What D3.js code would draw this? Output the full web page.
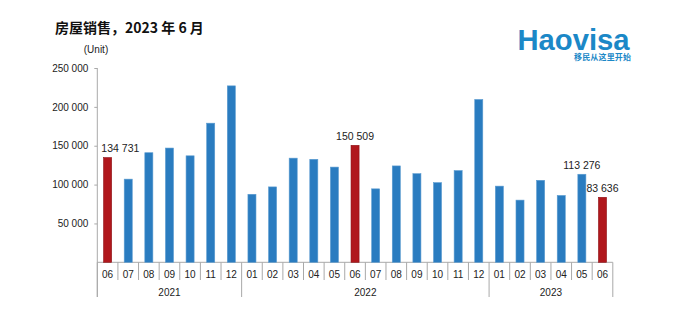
<!DOCTYPE html>
<html><head><meta charset="utf-8">
<script src="https://cdn.jsdelivr.net/npm/d3@7"></script>
<style>
html,body{margin:0;padding:0;background:#fff;}
svg{display:block;}
</style></head>
<body>
<svg id="chart" width="680" height="331"></svg>
<script>
const months = ["06","07","08","09","10","11","12","01","02","03","04","05","06","07","08","09","10","11","12","01","02","03","04","05","06"];
const years = ["2021","2022","2023"];
const yearCounts = [7, 12, 6];
const values = [134731,107000,141000,147000,137000,179000,227000,
                87500,97000,134000,132500,122500,150509,94500,124000,114000,102500,118000,209500,
                98000,80000,105500,86000,113276,83636];
const labeled = [0, 12, 23, 24];
const yTicks = [50000,100000,150000,200000,250000];
const title = "房屋销售，2023 年 6 月";
const unitLabel = "(Unit)";

const svg = d3.select("#chart");
const fontLatin = "'Liberation Sans', Arial, sans-serif";
const fontCJK = "'Noto Sans CJK SC', sans-serif";
const axisColor = "#a9a9a9";
const blue = "#2a7cc0", red = "#b0171c";

const x0 = 97.3, x1 = 612.8, yTop = 68, yZero = 262.3;
const x = d3.scaleBand().domain(d3.range(values.length)).range([x0, x1]).paddingInner(0.61).paddingOuter(0.305);
const y = d3.scaleLinear().domain([0, 250000]).range([yZero, yTop]);
const fmt = v => d3.format(",")(v).replace(/,/g, " ");

// title
svg.append("text").attr("x", 55).attr("y", 32.5).attr("font-family", fontCJK)
  .attr("font-size", 14).attr("font-weight", "bold").attr("fill", "#111").text(title);

// logo
svg.append("text").attr("x", 517.5).attr("y", 50).attr("font-family", fontLatin)
  .attr("font-size", 30).attr("font-weight", "bold").attr("fill", "#1b88c7")
  .attr("textLength", 112).attr("lengthAdjust", "spacingAndGlyphs").text("Haovisa");
svg.append("text").attr("x", 574).attr("y", 59.5).attr("font-family", fontCJK)
  .attr("font-size", 8).attr("font-weight", "bold").attr("fill", "#1b88c7")
  .attr("textLength", 57).text("移民从这里开始");

// unit
svg.append("text").attr("x", 96).attr("y", 52.5).attr("text-anchor", "middle")
  .attr("font-family", fontLatin).attr("font-size", 10).attr("fill", "#222").text(unitLabel);

// y axis
const yAxis = d3.axisLeft(y).tickValues(yTicks).tickFormat(fmt).tickSize(3).tickPadding(6);
const gy = svg.append("g").attr("transform", `translate(${x0},0)`).call(yAxis);
gy.select(".domain").remove();
gy.selectAll(".tick line").attr("stroke", axisColor);
gy.selectAll(".tick text").attr("font-family", fontLatin).attr("font-size", 10).attr("fill", "#222");
svg.append("line").attr("x1", x0).attr("x2", x0).attr("y1", yTop).attr("y2", 297).attr("stroke", axisColor);

// x axis baseline
svg.append("line").attr("x1", x0).attr("x2", x1).attr("y1", yZero).attr("y2", yZero).attr("stroke", axisColor);

// month separators
const step = x.step();
const boundaries = d3.range(values.length + 1).map(i => x0 + i * step);
const yearBounds = [0];
yearCounts.forEach(c => yearBounds.push(yearBounds[yearBounds.length - 1] + c));
svg.append("g").selectAll("line").data(boundaries).join("line")
  .attr("x1", d => d).attr("x2", d => d).attr("y1", yZero)
  .attr("y2", (d, i) => yearBounds.includes(i) ? 297 : 280)
  .attr("stroke", axisColor);

// month labels
svg.append("g").selectAll("text").data(months).join("text")
  .attr("x", (d, i) => x(i) + x.bandwidth() / 2).attr("y", 278)
  .attr("text-anchor", "middle").attr("font-family", fontLatin).attr("font-size", 10)
  .attr("fill", "#222").text(d => d);

// year labels
svg.append("g").selectAll("text").data(years).join("text")
  .attr("x", (d, i) => x0 + (yearBounds[i] + yearBounds[i + 1]) / 2 * step).attr("y", 295.5)
  .attr("text-anchor", "middle").attr("font-family", fontLatin).attr("font-size", 10)
  .attr("fill", "#222").text(d => d);

// bars
svg.append("g").selectAll("rect").data(values).join("rect")
  .attr("x", (d, i) => x(i)).attr("width", x.bandwidth())
  .attr("y", d => y(d)).attr("height", d => yZero - y(d))
  .attr("fill", (d, i) => months[i] === "06" ? red : blue)
  .attr("stroke", (d, i) => months[i] === "06" ? "#8e1014" : "#5a9bd0").attr("stroke-width", 0.6);

// value labels
const lg = svg.append("g");
labeled.forEach(i => {
  const t = lg.append("text").attr("x", x(i) + x.bandwidth() / 2).attr("y", y(values[i]) - 5.5)
    .attr("text-anchor", "middle").attr("font-family", fontLatin).attr("font-size", 10.5)
    .attr("fill", "#222").text(fmt(values[i]));
  const bb = t.node().getBBox();
  if (bb.x < x0 + 4) t.attr("x", x0 + 4 + bb.width / 2);
});
</script>
</body></html>
